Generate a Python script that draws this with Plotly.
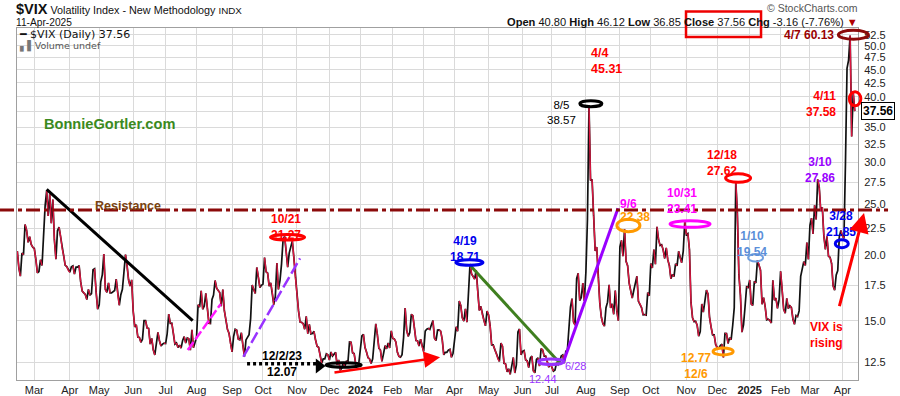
import math
import pandas as pd
import plotly.graph_objects as go

# ---------------- data ----------------
START = "2023-02-13"
END = "2025-04-11"
HOLIDAYS = ["2023-02-20", "2023-04-07", "2023-05-29", "2023-06-19", "2023-07-04",
            "2023-09-04", "2023-11-23", "2023-12-25", "2024-01-01", "2024-01-15",
            "2024-02-19", "2024-03-29", "2024-05-27", "2024-06-19", "2024-07-04",
            "2024-09-02", "2024-11-28", "2024-12-25", "2025-01-01", "2025-01-09",
            "2025-01-20", "2025-02-17"]

feb23 = [20.34, 18.91, 18.23, 20.17, 20.02, 22.87, 22.29, 21.14, 21.67, 20.95, 20.70]
mar23 = [20.58, 19.63, 18.49, 18.61, 19.59, 19.11, 22.61, 24.80, 26.52, 23.73, 26.14, 22.99,
         25.51, 21.38, 19.64, 22.26, 22.61, 21.74, 20.60, 19.97, 19.12, 19.02, 18.70]
apr23 = [18.55, 19.00, 19.08, 18.40, 18.97, 18.97, 19.09, 17.80, 17.07, 16.95, 16.83, 16.46,
         17.20, 16.77, 16.89, 18.76, 18.84, 17.03, 15.78]
may23 = [16.08, 17.78, 18.34, 20.09, 17.19, 16.98, 17.71, 16.94, 16.94, 17.03, 17.12, 17.99,
         16.87, 16.05, 16.81, 17.21, 18.53, 20.03, 19.14, 17.95, 17.46, 17.94]
jun23 = [15.65, 14.60, 14.73, 13.96, 13.94, 13.65, 13.83, 15.01, 15.01, 14.53, 14.50, 13.54,
         13.88, 13.20, 12.91, 13.44, 14.25, 13.74, 13.43, 13.54, 13.59]
jul23 = [13.57, 14.18, 15.44, 14.83, 14.84, 14.22, 13.54, 13.61, 13.34, 13.48, 13.30, 13.76,
         13.99, 13.60, 13.91, 13.86, 13.19, 14.41, 13.33, 13.63]
aug23 = [13.93, 16.09, 15.92, 17.10, 15.77, 15.99, 16.91, 15.85, 14.84, 14.82, 16.46, 16.78,
         17.89, 17.30, 17.12, 16.97, 15.98, 17.20, 15.68, 15.08, 14.45, 14.20, 13.57]
sep23 = [13.09, 14.00, 14.45, 14.40, 13.84, 13.80, 14.23, 13.48, 12.82, 13.79, 14.00, 14.11,
         15.14, 17.54, 17.20, 16.90, 18.94, 18.22, 17.34, 17.52]
oct23 = [17.61, 19.78, 18.58, 18.49, 17.45, 17.70, 17.03, 16.09, 16.69, 19.32, 17.21, 17.88,
         19.22, 21.40, 21.71, 20.37, 18.97, 20.19, 20.68, 21.27, 19.75, 18.14]
nov23 = [16.87, 15.66, 14.91, 14.89, 14.81, 14.45, 15.29, 14.17, 14.76, 14.16, 14.18, 14.32,
         13.80, 13.41, 13.35, 12.85, 12.46, 12.69, 12.69, 12.98, 12.92]
dec23 = [12.63, 13.08, 12.85, 12.97, 13.06, 12.35, 12.63, 12.07, 12.19, 12.48, 12.28, 12.56,
         12.53, 13.67, 13.65, 13.03, 12.99, 12.43, 12.47, 12.45]
jan24 = [13.20, 14.04, 14.13, 13.35, 13.08, 12.76, 12.69, 12.44, 12.70, 13.84, 14.79, 14.13,
         13.30, 13.19, 12.55, 12.97, 13.45, 13.26, 13.60, 13.31, 14.35]
feb24 = [13.88, 13.85, 13.67, 13.06, 12.83, 12.79, 12.93, 13.93, 15.85, 14.38, 14.01, 14.24,
         15.42, 15.34, 14.54, 13.75, 13.74, 13.43, 13.84, 13.40]
mar24 = [13.11, 14.33, 14.46, 14.50, 14.44, 14.74, 15.01, 13.90, 13.75, 14.40, 14.41, 14.33,
         13.82, 12.92, 13.06, 13.06, 13.19, 13.24, 12.78, 13.01]
apr24 = [13.65, 14.61, 14.33, 16.35, 16.03, 15.19, 14.98, 15.80, 14.91, 17.31, 19.23, 18.40,
         18.21, 18.00, 18.71, 16.94, 15.69, 15.97, 15.37, 15.03, 14.67, 15.65]
may24 = [15.39, 14.68, 13.49, 13.49, 13.23, 13.00, 12.69, 12.55, 13.60, 13.42, 12.45, 12.42,
         11.99, 12.15, 11.86, 12.29, 12.77, 11.93, 12.36, 14.28, 14.47, 12.92]
jun24 = [13.11, 13.16, 12.63, 12.58, 12.22, 12.74, 12.85, 12.04, 11.94, 12.66, 12.75, 12.30,
         13.28, 13.20, 12.84, 12.84, 12.55, 12.24, 12.44]
jul24 = [12.22, 12.03, 12.09, 12.48, 12.37, 12.51, 12.85, 12.91, 12.46, 13.12, 13.19, 14.48,
         15.93, 16.52, 14.91, 14.72, 18.04, 18.46, 16.39, 16.60, 17.69, 16.36]
aug24 = [18.59, 23.39, 38.57, 27.71, 27.85, 23.79, 20.37, 20.71, 18.12, 16.19, 15.23, 14.80,
         14.65, 15.88, 16.27, 17.55, 15.86, 16.15, 15.43, 17.11, 15.65, 15.00]
sep24 = [20.72, 21.32, 19.90, 22.38, 19.45, 19.08, 17.69, 17.07, 16.56, 17.14, 17.61, 18.23,
         16.33, 16.15, 15.89, 15.39, 15.41, 15.37, 16.96, 16.73]
oct24 = [19.26, 18.90, 20.49, 19.21, 22.64, 21.42, 20.86, 20.93, 20.46, 19.70, 20.64, 19.58,
         19.11, 18.03, 18.37, 18.20, 19.24, 19.08, 20.33, 19.80, 19.34, 20.35, 23.16]
nov24 = [21.88, 21.98, 20.49, 16.27, 15.20, 14.94, 14.97, 14.71, 14.02, 14.31, 16.14, 15.58,
         16.35, 17.16, 16.87, 15.24, 14.60, 14.10, 14.10, 13.51]
dec24 = [13.34, 13.30, 13.45, 13.54, 12.77, 14.19, 14.18, 13.58, 13.92, 13.81, 14.69, 15.87,
         27.62, 24.09, 18.36, 16.78, 14.27, 14.73, 15.95, 17.40, 17.35]
jan25 = [17.93, 16.13, 16.04, 17.82, 17.70, 19.54, 19.19, 18.71, 16.12, 16.60, 15.97, 15.06,
         15.10, 15.02, 14.85, 17.90, 16.41, 16.56, 15.84, 16.43]
feb25 = [18.62, 17.21, 15.77, 15.50, 16.54, 15.81, 16.02, 15.89, 15.10, 14.77, 15.35, 15.27,
         15.66, 18.21, 18.98, 19.43, 19.10, 21.13, 19.63]
mar25 = [22.78, 23.51, 21.93, 24.87, 23.37, 27.86, 26.92, 24.23, 24.66, 21.77, 20.51, 21.70,
         19.90, 19.80, 19.28, 17.48, 17.15, 18.33, 18.69, 21.65, 22.28]
apr25 = [21.77, 21.51, 30.02, 45.31, 46.98, 52.33, 33.62, 40.72, 37.56]

MONTHS = [feb23, mar23, apr23, may23, jun23, jul23, aug23, sep23, oct23, nov23, dec23,
          jan24, feb24, mar24, apr24, may24, jun24, jul24, aug24, sep24, oct24, nov24, dec24,
          jan25, feb25, mar25, apr25]

Y_TICKS = [12.5, 15.0, 17.5, 20.0, 22.5, 25.0, 27.5, 30.0, 32.5, 35.0, 37.5, 40.0,
           42.5, 45.0, 47.5, 50.0, 52.5]
Y_TICK_LABELS = ["12.5", "15.0", "17.5", "20.0", "22.5", "25.0", "27.5", "30.0", "32.5",
                 "35.0", "", "40.0", "42.5", "45.0", "47.5", "50.0", "52.5"]
MONTH_ABBR = ["Jan", "Feb", "Mar", "Apr", "May", "Jun", "Jul", "Aug", "Sep", "Oct", "Nov", "Dec"]
RESISTANCE = 24.35
LAST_CLOSE = 37.56

# ---------------- build series ----------------
days = pd.bdate_range(START, END)
days = days[~days.isin(pd.to_datetime(HOLIDAYS))]
periods = days.to_period("M")
keys = list(dict.fromkeys(periods))
dates, vix = [], []
for key, vals in zip(keys, MONTHS):
    md = days[periods == key]
    if len(md) != len(vals):
        raise ValueError(f"{key}: {len(md)} days vs {len(vals)} values")
    dates.extend(md)
    vix.extend(vals)
dates = pd.DatetimeIndex(dates)
n = len(vix)
xs = list(range(n))


def xi(d):
    return int(dates.searchsorted(pd.Timestamp(d)))


XR = [-0.2, 544.1]
YR = [math.log10(11.57), math.log10(54.06)]

tickvals, ticktext = [], []
for key in keys[1:]:
    first = int(dates.searchsorted(key.start_time))
    tickvals.append(first)
    ticktext.append(f"<b>{key.year}</b>" if key.month == 1 else MONTH_ABBR[key.month - 1])

# down segments
dx, dy = [], []
for i in range(1, n):
    if vix[i] < vix[i - 1]:
        dx += [xs[i - 1], xs[i], None]
        dy += [vix[i - 1], vix[i], None]

fig = go.Figure()
fig.add_trace(go.Scatter(x=xs, y=vix, mode="lines", line=dict(color="#111111", width=1.7),
                         hoverinfo="skip", showlegend=False))
fig.add_trace(go.Scatter(x=dx, y=dy, mode="lines", line=dict(color="#dc1640", width=1.4),
                         hoverinfo="skip", showlegend=False))


def seg(p0, p1, color, width=3, dash="solid"):
    fig.add_trace(go.Scatter(x=[p0[0], p1[0]], y=[p0[1], p1[1]], mode="lines",
                             line=dict(color=color, width=width, dash=dash),
                             hoverinfo="skip", showlegend=False))


# trend lines
seg((xi("2023-03-13"), 26.66), (xi("2023-07-27") + 0.5, 15.0), "black", 3)
seg((xi("2023-07-24") + 0.3, 13.19), (xi("2023-08-22") + 0.6, 16.13), "#ff1aff", 2.5, "10px,3px")
seg((xi("2023-09-13") + 0.3, 12.81), (xi("2023-11-03"), 19.71), "#9933ff", 2.5, "12px,4px")
seg((xi("2023-09-15") + 0.7, 12.42), (xi("2023-11-20") + 0.6, 12.42), "black", 3.5, "3px,3px")
fig.add_trace(go.Scatter(x=[xi("2023-11-21") + 0.3], y=[12.3], mode="markers",
                         marker=dict(symbol="triangle-right", size=13, color="black"),
                         hoverinfo="skip", showlegend=False))
seg((xi("2024-04-15"), 19.12), (xi("2024-07-09") + 0.7, 12.41), "#3f7f1f", 3)
seg((xi("2024-07-11") + 0.2, 12.47), (xi("2024-08-29") + 0.8, 24.55), "#9900ff", 3)

shapes = []


def ellipse(xc, yc, w, h, color, width=3, paper=False):
    d = dict(type="circle", yref="y", xsizemode="pixel", ysizemode="pixel",
             yanchor=yc, x0=-w / 2, x1=w / 2, y0=-h / 2, y1=h / 2,
             line=dict(color=color, width=width), layer="above")
    if paper:
        d["xref"] = "paper"
        d["xanchor"] = (xc - XR[0]) / (XR[1] - XR[0])
    else:
        d["xref"] = "x"
        d["xanchor"] = xc
    shapes.append(d)


ellipse(xi("2023-10-23") + 0.9, 21.35, 34, 11, "#ff0000")
ellipse(xi("2023-12-14") + 0.2, 12.24, 35, 9, "black")
ellipse(xi("2024-04-12") + 0.6, 19.12, 27, 11, "#0000ee")
ellipse(xi("2024-06-28") + 0.4, 12.38, 25, 11, "#9933ff")
ellipse(xi("2024-08-06") + 0.2, 38.30, 22, 12, "black")
ellipse(xi("2024-09-10") + 0.5, 22.15, 23, 25, "#ff9900")
ellipse(xi("2024-11-05") + 0.4, 22.58, 40, 13, "#ff00ff")
ellipse(xi("2024-12-05") + 0.8, 12.91, 20, 14, "#ff9900")
ellipse(xi("2024-12-19") + 0.5, 27.50, 25, 17, "#ff0000")
ellipse(xi("2025-01-07") + 0.8, 19.44, 15, 15, "#6f9fe0", 2)
ellipse(xi("2025-03-31") + 0.6, 20.65, 13, 16, "#0000ee")
ellipse(xi("2025-04-10") + 0.1, 51.46, 30, 18, "#8b0a0a", 3, paper=True)
ellipse(xi("2025-04-11") + 0.2, 38.44, 11.5, 28, "#ff0000", 3, paper=True)

# resistance line
shapes.append(dict(type="line", xref="paper", yref="y", x0=-0.0202, x1=1.0357,
                   y0=RESISTANCE, y1=RESISTANCE, layer="above",
                   line=dict(color="#8b0a0a", width=3, dash="14px,4px,4px,4px")))
# red box around Close
shapes.append(dict(type="rect", xref="paper", yref="paper", x0=0.7955, x1=0.8847,
                   y0=0.9744, y1=1.0469, line=dict(color="#ee0000", width=2.5)))

ann = []
L = math.log10


def txt(x, v, text, color, size=12, bold=True, xanchor="center", align="center"):
    ann.append(dict(x=x, y=L(v), xref="x", yref="y", text=f"<b>{text}</b>" if bold else text,
                    showarrow=False, xanchor=xanchor, yanchor="middle", align=align,
                    font=dict(color=color, size=size, family="Liberation Sans, Arial")))


txt(xi("2023-05-25") + 0.9, 24.82, "Resistance", "#7a4310", 12.5)
txt(xi("2023-10-20") + 0.9, 22.6, "10/21<br>21.27", "#ff0000", 12)
txt(xi("2023-10-18") + 0.5, 12.42, "12/2/23<br>12.07", "black", 12)
txt(xi("2024-04-09") + 0.8, 20.5, "4/19<br>18.71", "#0000ee", 12)
txt(xi("2024-06-21") + 0.3, 11.61, "12.44", "#9933ff", 11, False)
txt(xi("2024-07-23"), 12.31, "6/28", "#9933ff", 11, False)
txt(xi("2024-07-10") + 0.4, 37.41, "8/5<br>38.57", "black", 11.5, False)
txt(xi("2024-08-05"), 46.79, "4/4<br>45.31", "#ff0000", 12.5, True, "left", "left")
txt(xi("2024-08-29") + 0.9, 25.0, "9/6", "#ff00ff", 12, True, "left")
txt(xi("2024-08-29") + 0.9, 23.62, "22.38", "#ff9900", 12, True, "left")
txt(xi("2024-10-29") + 0.4, 25.39, "10/31<br>23.41", "#ff00ff", 12)
txt(xi("2024-11-11"), 12.28, "12.77<br>12/6", "#ff9900", 12)
txt(xi("2024-12-04") + 0.9, 29.87, "12/18<br>27.62", "#ff0000", 12)
txt(xi("2025-01-03") + 0.3, 20.95, "1/10<br>19.54", "#5b8fd9", 12)
txt(xi("2025-03-11") + 0.5, 29.02, "3/10<br>27.86", "#9900ff", 12)
txt(xi("2025-03-28") + 0.8, 22.92, "3/28<br>21.85", "#0000ee", 12)
txt(xi("2025-03-17") + 0.9, 14.10, "VIX is<br>rising", "#ff0000", 12)
txt(xi("2025-03-26") - 0.1, 52.42, "4/7 60.13", "#990000", 12, True, "right")
txt(xi("2025-03-27") - 0.1, 38.80, "4/11<br>37.58", "#ff0000", 12, True, "right", "right")

# arrows
ann.append(dict(x=xi("2024-03-15") + 0.6, y=L(12.78), ax=xi("2023-12-05") + 0.3, ay=L(11.94),
                xref="x", yref="y", axref="x", ayref="y", text="", showarrow=True,
                arrowhead=2, arrowsize=1.3, arrowwidth=2.5, arrowcolor="#ff0000"))
ann.append(dict(x=xi("2025-04-11") + 6.0, y=L(24.04), ax=xi("2025-03-27") + 0.8, ay=L(15.88),
                xref="x", yref="y", axref="x", ayref="y", text="", showarrow=True,
                arrowhead=2, arrowsize=1.3, arrowwidth=3, arrowcolor="#ff0000"))

# last value box on the axis
ann.append(dict(x=1, y=L(LAST_CLOSE), xref="paper", yref="y", xanchor="left", xshift=3,
                text=f"<b>{LAST_CLOSE:.2f}</b>", showarrow=False, bgcolor="white",
                bordercolor="black", borderwidth=1, borderpad=1,
                font=dict(color="black", size=12, family="Liberation Sans, Arial")))


# header / legend / watermark texts (paper coords)
def ptxt(x, y, text, size, color="#222222", xanchor="left", family="Liberation Sans, Arial"):
    ann.append(dict(x=x, y=y, xref="paper", yref="paper", text=text, showarrow=False,
                    xanchor=xanchor, yanchor="middle", align="left",
                    font=dict(size=size, color=color, family=family)))


ptxt(-0.003, 1.054, "<b><span style='font-size:14.5px'>$VIX</span></b> Volatility Index - New Methodology "
     "<span style='font-size:9.8px'>INDX</span>", 10.8, "#111111")
ptxt(-0.003, 1.016, "11-Apr-2025", 10.2, "#111111")
ptxt(1.002, 1.056, "© StockCharts.com", 10.5, "#555555", "right")
ptxt(1.002, 1.016, "<b>Open</b> 40.80 <b>High</b> 46.12 <b>Low</b> 36.85 <b>Close</b> 37.56 "
     "<b>Chg</b> -3.16 (-7.76%) <span style='color:#b00000'>▼</span>", 11.1, "#111111", "right")
ptxt(0.0, 0.981, "<b>━</b> $VIX (Daily) 37.56", 11, "#111111", family="DejaVu Sans")
ptxt(0.0, 0.950, "<span style='color:#777'>▖▌</span>Volume undef", 9.5, "#555555", family="DejaVu Sans")
ptxt(0.030, 0.727, "<b>BonnieGortler.com</b>", 14.6, "#3b8a1e")

fig.update_layout(
    width=900, height=396,
    margin=dict(l=17, r=42, t=28, b=16, autoexpand=False),
    paper_bgcolor="white", plot_bgcolor="white",
    font=dict(family="Liberation Sans, Arial", size=11, color="#222222"),
    showlegend=False,
    shapes=shapes, annotations=ann,
    xaxis=dict(range=XR, tickmode="array", tickvals=tickvals, ticktext=ticktext,
               automargin=False,
               showgrid=True, gridcolor="#dadada", gridwidth=1, zeroline=False,
               showline=True, linecolor="#a0a0a0", linewidth=1, mirror=True,
               ticks="", tickfont=dict(size=11, color="#222222")),
    yaxis=dict(type="log", range=YR, side="right", tickmode="array", tickvals=Y_TICKS,
               ticktext=Y_TICK_LABELS, showgrid=True, gridcolor="#dadada",
               automargin=False,
               gridwidth=1, zeroline=False, showline=True, linecolor="#a0a0a0", linewidth=1,
               mirror=True, ticks="", ticklabelstandoff=3,
               tickfont=dict(size=11, color="#222222")),
)

fig.write_html("out.html", config={"displayModeBar": False},
               post_script="document.body.style.margin='0';document.body.style.padding='0';")
